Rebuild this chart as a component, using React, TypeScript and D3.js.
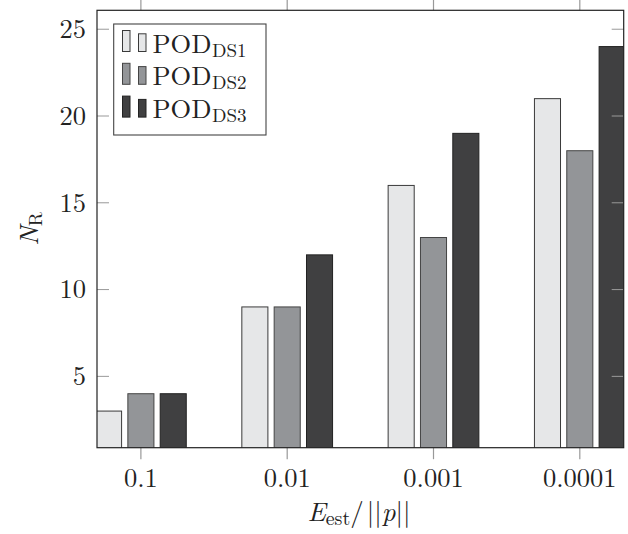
import React from "react";
import * as d3 from "d3";

const categories = ["0.1", "0.01", "0.001", "0.0001"];
const seriesNames = ["DS1", "DS2", "DS3"];
const pod1 = [3, 9, 16, 21];
const pod2 = [4, 9, 13, 18];
const pod3 = [4, 12, 19, 24];
const yTicks = [5, 10, 15, 20, 25];

const fills = ["#e6e7e8", "#939598", "#404041"];
const strokes = ["#3a3a3a", "#444444", "#222222"];

const W = 628, H = 534;
const L = 97, R = 623.7, T = 10.3, B = 447.7;
const FONT = "'Latin Modern Roman', 'CMU Serif', 'Liberation Serif', serif";

export default function App() {
  const series = [pod1, pod2, pod3];
  const x = d3.scaleLinear().domain([-0.3, categories.length - 1 + 0.3]).range([L, R]);
  const y = d3.scaleLinear().domain([0.89, 26.09]).range([B, T]);
  const step = x(1) - x(0);
  const shift = 0.221 * step;
  const bw = 0.185 * step;

  return (
    <svg width={W} height={H} style={{ position: "absolute", left: 0, top: 0, background: "#fff", fontFamily: FONT }}>
      <defs>
        <clipPath id="plotclip">
          <rect x={L} y={T} width={R - L} height={B - T} />
        </clipPath>
      </defs>
      <g clipPath="url(#plotclip)">
        {series.map((vals, si) =>
          vals.map((v, ci) => {
            const cx = x(ci) + (si - 1) * shift;
            return (
              <rect key={si + "-" + ci} x={cx - bw / 2 + 0.5} y={y(v)} width={bw - 1}
                height={y(0) - y(v)} fill={fills[si]} stroke={strokes[si]} strokeWidth={1} />
            );
          })
        )}
      </g>
      {yTicks.map((t) => (
        <g key={"yt" + t}>
          <line x1={L} x2={L + 12} y1={y(t)} y2={y(t)} stroke="#999" strokeWidth={1} />
          <line x1={R - 12} x2={R} y1={y(t)} y2={y(t)} stroke="#999" strokeWidth={1} />
          <text x={86} y={y(t)} dy="0.33em" textAnchor="end" fontSize={26.5} fill="#222">{t}</text>
        </g>
      ))}
      {categories.map((c, i) => (
        <g key={"xt" + c}>
          <line x1={x(i)} x2={x(i)} y1={B} y2={B + 11.5} stroke="#999" strokeWidth={1.2} />
          <line x1={x(i)} x2={x(i)} y1={0} y2={T} stroke="#999" strokeWidth={1.2} />
          <text x={x(i)} y={486.5} textAnchor="middle" fontSize={26.5} fill="#222">{c}</text>
        </g>
      ))}
      <rect x={L} y={T} width={R - L} height={B - T} fill="none" stroke="#222" strokeWidth={1.2} />

      <rect x={113.7} y={24} width={152.3} height={111} fill="#fff" stroke="#444" strokeWidth={1.1} />
      {seriesNames.map((s, i) => {
        const oy = i * 32.8;
        return (
          <g key={"lg" + s}>
            <rect x={122.5} y={30.5 + oy} width={7.5} height={21} fill={fills[i]} stroke={strokes[i]} strokeWidth={1} />
            <rect x={138.5} y={33.8 + oy} width={7.5} height={17.7} fill={fills[i]} stroke={strokes[i]} strokeWidth={1} />
            <text x={152.5} y={52.5 + oy} fontSize={26.5} fill="#222">
              POD<tspan fontSize={19} dy={4} dx={0.5}>{s}</tspan>
            </text>
          </g>
        );
      })}

      <text transform="translate(38,229) rotate(-90)" textAnchor="middle" fontSize={26.5} fill="#222">
        <tspan fontStyle="italic">N</tspan><tspan fontSize={19} dy={4}>R</tspan>
      </text>
      <text x={359} y={521} textAnchor="middle" fontSize={27} fill="#222">
        <tspan fontStyle="italic">E</tspan><tspan fontSize={20} dy={4}>est</tspan><tspan dy={-4}>/</tspan><tspan dx={3}>||</tspan><tspan fontStyle="italic">p</tspan><tspan>||</tspan>
      </text>
    </svg>
  );
}
